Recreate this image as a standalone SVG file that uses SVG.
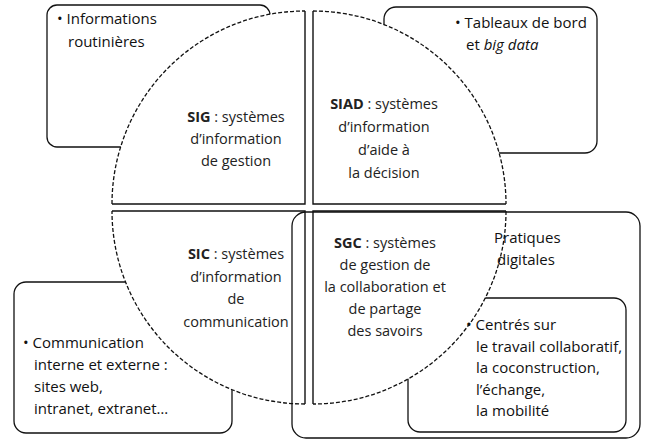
<svg xmlns="http://www.w3.org/2000/svg" width="645" height="443" viewBox="0 0 645 443">
<style>
.box{fill:none;stroke:#111;stroke-width:1.3}
.qfill{fill:#fff;stroke:none}
.rad{fill:none;stroke:#111;stroke-width:1.4}
.arc{fill:none;stroke:#111;stroke-width:1.3;stroke-dasharray:4 2}
.t{font-family:"Open Sans","Noto Sans",sans-serif;font-size:15px;fill:#111}
.q{font-family:"Open Sans","Noto Sans",sans-serif;font-size:14.5px;fill:#222;text-anchor:middle}
.b{font-weight:bold}
</style>
<rect width="645" height="443" fill="#fff"/>
<g id="box-informations"><rect class="box" x="47" y="5" width="223" height="142" rx="10"/></g>
<g id="box-tableaux"><rect class="box" x="384" y="7" width="213" height="146" rx="12"/></g>
<g id="box-communication"><rect class="box" x="14" y="282" width="218" height="151" rx="12"/></g>
<g id="box-centres"><rect class="box" x="408" y="298" width="218" height="134" rx="12"/></g>
<g id="connectors">
<g id="q-sig"><path class="qfill" d="M305,204 L112,204 A193 193 0 0 1 305,11 Z"/><path class="rad" d="M112,204 L305,204 L305,11"/><path class="arc" d="M112,204 A193 193 0 0 1 305,11"/></g>
<g id="q-siad"><path class="qfill" d="M313,11 A193 193 0 0 1 506,204 L313,204 Z"/><path class="rad" d="M313,11 L313,204 L506,204"/><path class="arc" d="M313,11 A193 193 0 0 1 506,204"/></g>
<g id="q-sic"><path class="qfill" d="M112,211 L305,211 L305,404 A193 193 0 0 1 112,211 Z"/><path class="rad" d="M112,211 L305,211 L305,404"/><path class="arc" d="M305,404 A193 193 0 0 1 112,211"/></g>
<g id="q-sgc"><path class="qfill" d="M313,211 L506,211 A193 193 0 0 1 313,404 Z"/><path class="rad" d="M506,211 L313,211 L313,404"/><path class="arc" d="M506,211 A193 193 0 0 1 313,404"/></g>
</g>
<g id="box-pratiques"><rect class="box" x="292" y="212" width="348" height="226" rx="14"/></g>
<g id="labels">
<text class="q" x="236" y="122"><tspan class="b">SIG</tspan> : systèmes</text>
<text class="q" x="236" y="144">d’information</text>
<text class="q" x="236" y="166">de gestion</text>
<text class="q" x="384" y="109"><tspan class="b">SIAD</tspan> : systèmes</text>
<text class="q" x="384" y="132">d’information</text>
<text class="q" x="384" y="155">d’aide à</text>
<text class="q" x="384" y="178">la décision</text>
<text class="q" x="236" y="259"><tspan class="b">SIC</tspan> : systèmes</text>
<text class="q" x="236" y="282">d’information</text>
<text class="q" x="236" y="304">de</text>
<text class="q" x="236" y="327">communication</text>
<text class="q" x="385" y="248"><tspan class="b">SGC</tspan> : systèmes</text>
<text class="q" x="385" y="270">de gestion de</text>
<text class="q" x="385" y="292">la collaboration et</text>
<text class="q" x="385" y="314">de partage</text>
<text class="q" x="385" y="336">des savoirs</text>
</g>
<g id="bullets">
<text class="t" x="57" y="24">• Informations</text>
<text class="t" x="68" y="47">routinières</text>
<text class="t" x="455" y="28">• Tableaux de bord</text>
<text class="t" x="466" y="50">et <tspan font-style="italic">big data</tspan></text>
<text class="t" x="23" y="348">• Communication</text>
<text class="t" x="34" y="370">interne et externe :</text>
<text class="t" x="34" y="392">sites web,</text>
<text class="t" x="34" y="414">intranet, extranet…</text>
<text class="t" x="494" y="243">Pratiques</text>
<text class="t" x="497" y="265">digitales</text>
<text class="t" x="466" y="330">• Centrés sur</text>
<text class="t" x="476" y="352">le travail collaboratif,</text>
<text class="t" x="476" y="373">la coconstruction,</text>
<text class="t" x="476" y="395">l’échange,</text>
<text class="t" x="476" y="416">la mobilité</text>
</g>
</svg>
